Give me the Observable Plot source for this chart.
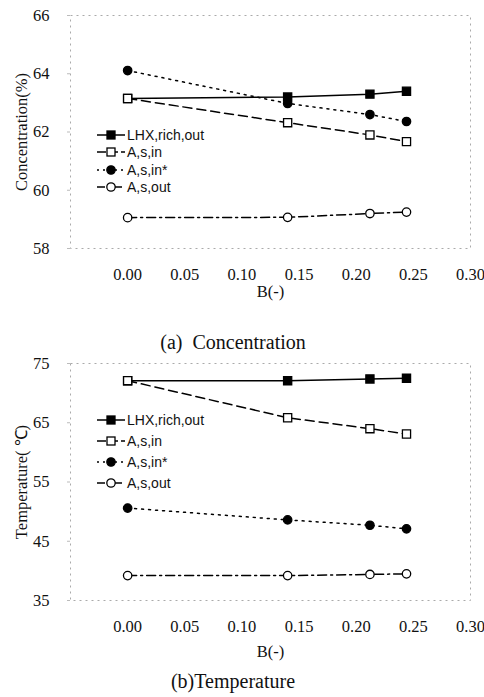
<!DOCTYPE html>
<html><head><meta charset="utf-8">
<script src="https://cdn.jsdelivr.net/npm/d3@7"></script>
<script src="https://cdn.jsdelivr.net/npm/@observablehq/plot@0.6"></script>
<style>
body{margin:0;background:#fff;width:484px;height:697px;position:relative;overflow:hidden;font-family:"Liberation Serif",serif}
.abs{position:absolute}
.abs svg text{font-family:"Liberation Serif",serif !important;font-size:16.5px !important;fill:#111}
.cap{position:absolute;z-index:5;left:0;width:466px;text-align:center;font-family:"Liberation Serif",serif;font-size:20px;color:#111;white-space:pre}
.leg{position:absolute;z-index:5;font-family:"Liberation Sans Narrow","Liberation Sans",sans-serif;font-size:14px;color:#111}
.leg div{display:flex;align-items:center;white-space:nowrap}
</style></head><body>
<div id="c1" class="abs" style="left:0;top:0"></div>
<div class="cap" style="top:331px">(a)  Concentration</div>
<div id="c2" class="abs" style="left:0;top:350px"></div>
<div class="cap" style="top:670px">(b)Temperature</div>
<div id="l1" class="leg" style="left:96px;top:126px"></div>
<div id="l2" class="leg" style="left:96px;top:409px"></div>
<script>
const B = [0.00, 0.14, 0.212, 0.244];
const seriesNames = ["LHX,rich,out", "A,s,in", "A,s,in*", "A,s,out"];
const concLHX = [63.15, 63.2, 63.3, 63.4];
const concAin = [63.15, 62.32, 61.9, 61.67];
const concAinStar = [64.11, 62.98, 62.6, 62.36];
const concAout = [59.06, 59.07, 59.2, 59.25];
const tempLHX = [72.1, 72.1, 72.4, 72.5];
const tempAin = [72.1, 65.85, 64.0, 63.1];
const tempAinStar = [50.6, 48.6, 47.7, 47.1];
const tempAout = [39.2, 39.2, 39.4, 39.5];
const xTicks = [0, 0.05, 0.10, 0.15, 0.20, 0.25, 0.30];
const concTicks = [58, 60, 62, 64, 66];
const tempTicks = [35, 45, 55, 65, 75];

const styles = {
  "LHX,rich,out": {dash: null, symbol: "square", fill: "black"},
  "A,s,in": {dash: "9,5", symbol: "square", fill: "white"},
  "A,s,in*": {dash: "2,5", symbol: "circle", fill: "black"},
  "A,s,out": {dash: "9,4,2,4", symbol: "circle", fill: "white"}
};

function rows(arrs){
  const out = [];
  arrs.forEach((vals, i) => vals.forEach((v, j) => out.push({s: seriesNames[i], x: B[j], y: v})));
  return out;
}

const FF = "Liberation Serif, serif";
function chart(data, yDomain, yTicks, yLabel, height, mTop, mBottom, lblOff){
  const marks = [
    Plot.frame({stroke: "#aaa", strokeDasharray: "2,4", strokeWidth: 1}),
    Plot.axisX({ticks: xTicks, tickFormat: d3.format(".2f"), tickSize: 0, tickPadding: 20, label: "B(-)", labelAnchor: "center", labelOffset: lblOff, labelArrow: "none", fontSize: 16, fontFamily: FF}),
    Plot.axisY({ticks: yTicks, tickFormat: d => d, tickSize: 3, tickPadding: 18, stroke: "#bbb", label: yLabel, labelAnchor: "center", labelOffset: 55, labelArrow: "none", fontSize: 16, fontFamily: FF})
  ];
  for (const name of seriesNames){
    const st = styles[name];
    const d = data.filter(r => r.s === name);
    marks.push(Plot.line(d, {x: "x", y: "y", stroke: "black", strokeWidth: 1.5, strokeDasharray: st.dash}));
  }
  for (const name of seriesNames){
    const st = styles[name];
    const d = data.filter(r => r.s === name);
    marks.push(Plot.dot(d, {x: "x", y: "y", symbol: st.symbol, r: st.symbol === "square" ? 4.6 : 4.2, fill: st.fill, stroke: "black", strokeWidth: 1.3}));
  }
  return Plot.plot({
    width: 484, height, marginLeft: 70, marginRight: 14, marginTop: mTop, marginBottom: mBottom,
    style: {fontFamily: FF, fontSize: "16px", color: "#111", background: "transparent"},
    x: {domain: [-0.05, 0.30]},
    y: {domain: yDomain},
    marks
  });
}

document.getElementById("c1").append(chart(rows([concLHX, concAin, concAinStar, concAout]), [58, 66], concTicks, "Concentration(%)", 305, 15, 57, 48));
document.getElementById("c2").append(chart(rows([tempLHX, tempAin, tempAinStar, tempAout]), [35, 75], tempTicks, "Temperature( \u2103)", 315, 13, 65, 56));

function legend(el, rowH){
  const box = document.getElementById(el);
  for (const name of seriesNames){
    const st = styles[name];
    const row = document.createElement("div");
    row.style.height = rowH + "px";
    const ns = "http://www.w3.org/2000/svg";
    const svg = document.createElementNS(ns, "svg");
    svg.setAttribute("width", 30); svg.setAttribute("height", 12);
    const ln = document.createElementNS(ns, "line");
    ln.setAttribute("x1", 1); ln.setAttribute("x2", 29); ln.setAttribute("y1", 6); ln.setAttribute("y2", 6);
    ln.setAttribute("stroke", "black"); ln.setAttribute("stroke-width", 1.5);
    if (st.dash) ln.setAttribute("stroke-dasharray", name === "A,s,in" ? "9,3" : name === "A,s,in*" ? "2,4" : "8,3,3,3");
    svg.append(ln);
    let m;
    if (st.symbol === "square"){ m = document.createElementNS(ns, "rect"); m.setAttribute("x", 11); m.setAttribute("y", 2); m.setAttribute("width", 8); m.setAttribute("height", 8); }
    else { m = document.createElementNS(ns, "circle"); m.setAttribute("cx", 15); m.setAttribute("cy", 6); m.setAttribute("r", 4.2); }
    m.setAttribute("fill", st.fill); m.setAttribute("stroke", "black"); m.setAttribute("stroke-width", 1.3);
    svg.append(m);
    const t = document.createElement("span"); t.textContent = name; t.style.marginLeft = "1px";
    row.append(svg, t);
    box.append(row);
  }
}
legend("l1", 17.5);
legend("l2", 21);
</script>
</body></html>
